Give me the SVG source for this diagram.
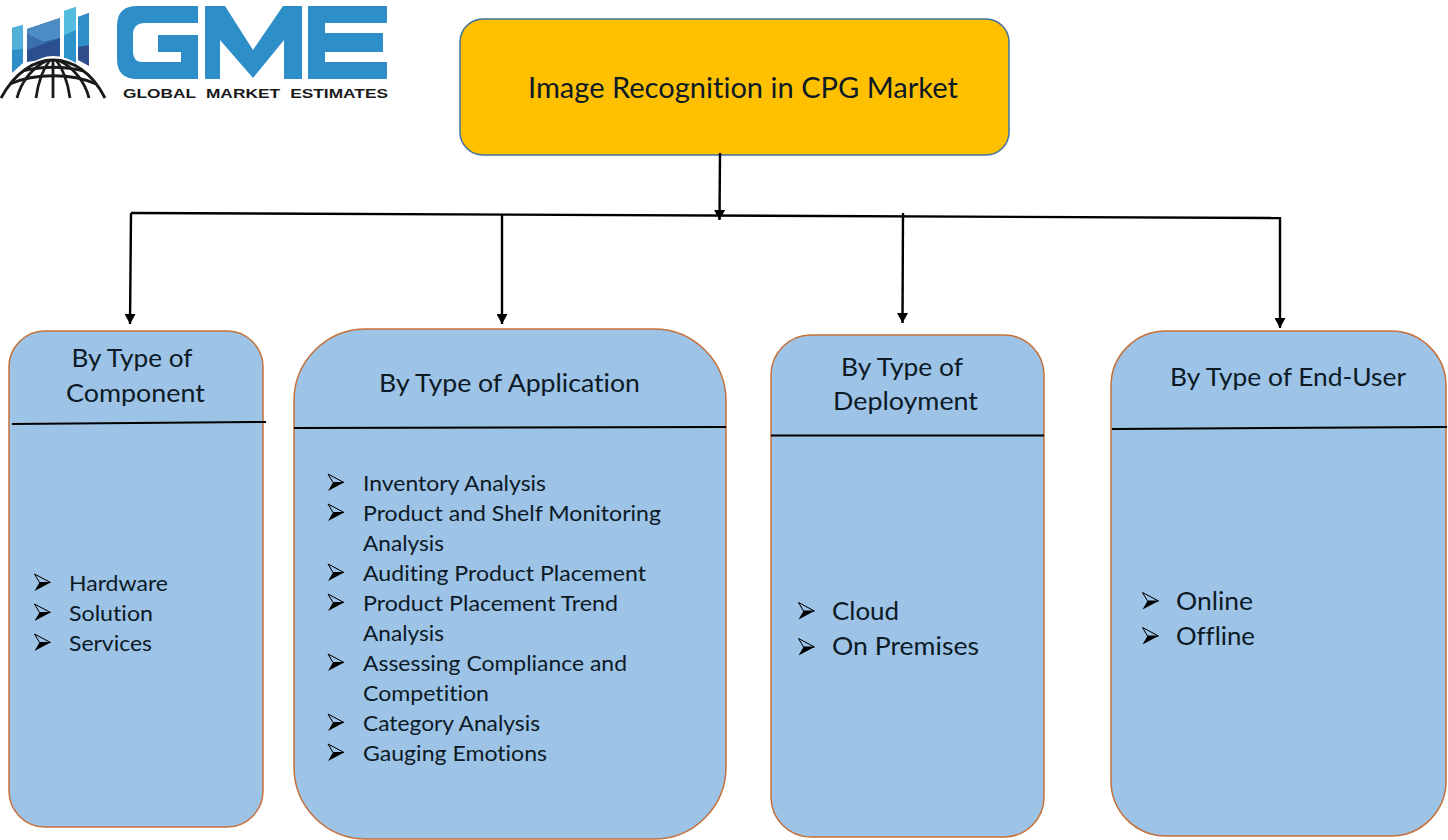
<svg xmlns="http://www.w3.org/2000/svg" xmlns:xlink="http://www.w3.org/1999/xlink" width="1448" height="840" viewBox="0 0 1448 840">
<style>
text{font-family:Lato,"Open Sans","Liberation Sans",sans-serif;fill:#0c1a26;font-variant-ligatures:none}
.box{fill:#9dc3e6;stroke:#c5703a;stroke-width:1.5}
.div{stroke:#000;stroke-width:2;fill:none}
.con{stroke:#000;stroke-width:2.4;fill:none}
.h{font-size:25px}
.i{font-size:22px}
.j{font-size:25px}
.gme{fill:#2e8ec7}
</style>
<defs>
<marker id="arr" markerUnits="userSpaceOnUse" markerWidth="11" markerHeight="11" refX="10" refY="5.500" orient="auto"><path d="M0 0L10 5.500L0 11Z" fill="#000"/></marker>
<g id="b"><path d="M0 -8.500L16 0L0 8.500L5 0Z" fill="#000"/><path d="M0 -8.500L16 0L5 0Z" fill="#9dc3e6" stroke="#000" stroke-width="1"/></g>
</defs>
<rect width="1448" height="840" fill="#fff"/>
<g id="logo">
<path d="M12 28L23 25V63L12 73Z" fill="#2e8ec7"/><path d="M12 28L23 25V49L12 50Z" fill="#4fb0da"/>
<path d="M27 29L60 18V57L27 62Z" fill="#2b4f8f"/><path d="M27 29L60 18V38L43 42L27 34Z" fill="#4b8cc4"/><path d="M27 34L43 42L60 38L43 44L27 50Z" fill="#3a70ad"/>
<path d="M64 11L76 7V63L64 58Z" fill="#2e93cb"/><path d="M64 11L76 7V30L64 35Z" fill="#56bde0"/>
<path d="M78 17L89 13V66L78 60Z" fill="#2e4f8b"/><path d="M78 17L89 13V45L78 47Z" fill="#2e8ec7"/>
<path d="M8 90C20 68 38 56 53 56C70 56 88 68 100 90L96 100H10Z" fill="#fff"/>
<g fill="none" stroke="#1a1a1a" stroke-width="2.800">
<path d="M1 98C15 72 35 60 53 60C72 60 92 72 105 98"/>
<path d="M10 84C35 73 72 73 96 84M23 71C40 66 66 66 83 71"/>
<path d="M17 98C21 82 32 68 46 61M36 98C38 84 42 70 50 60M53 60V98M70 98C68 84 64 70 56 60M89 98C85 82 74 68 60 61"/>
</g>
<path class="gme" d="M137 6H198V23H145Q133 23 133 35V52Q133 62 143 62H181V52H158V35H198V79H137Q117 79 117 59V26Q117 6 137 6Z"/>
<path class="gme" d="M205 79V6H225L253 50L283 6H302V79H284V40L253 78L220 40V79Z"/>
<path class="gme" d="M308 6H387V23H325V33H383V52H325V62H387V79H308Z"/>
<text x="123" y="98" font-size="13" font-weight="700" word-spacing="4" textLength="265" lengthAdjust="spacingAndGlyphs" style="font-family:'Liberation Sans',sans-serif;fill:#1a1a1a">GLOBAL MARKET ESTIMATES</text>
</g>
<g id="root"><rect x="460" y="19" width="549" height="136" rx="23" fill="#ffc000" stroke="#41719c" stroke-width="1.500"/>
<text x="528" y="98" font-size="28.500" textLength="430" lengthAdjust="spacingAndGlyphs">Image Recognition in CPG Market</text></g>
<g id="connectors">
<path class="con" d="M720 153L719.500 220" marker-end="url(#arr)"/>
<path class="con" d="M131 213L1281 218"/>
<path class="con" d="M131 213L130 324" marker-end="url(#arr)"/>
<path class="con" d="M502 215L502 324" marker-end="url(#arr)"/>
<path class="con" d="M903 213L902.500 323" marker-end="url(#arr)"/>
<path class="con" d="M1280 217L1280 328" marker-end="url(#arr)"/>
</g>
<g id="component"><rect class="box" x="9" y="331" width="254" height="496" rx="36"/>
<path class="div" d="M12 424L266 422"/>
<text class="h" x="71.500" y="367" textLength="121" lengthAdjust="spacingAndGlyphs">By Type of</text>
<text class="h" x="66" y="402" textLength="139" lengthAdjust="spacingAndGlyphs">Component</text>
<use xlink:href="#b" href="#b" x="34.500" y="582.500"/><use xlink:href="#b" href="#b" x="34.500" y="612.500"/><use xlink:href="#b" href="#b" x="34.500" y="642.500"/>
<text class="i" x="69" y="591" textLength="99" lengthAdjust="spacingAndGlyphs">Hardware</text>
<text class="i" x="69" y="621" textLength="84" lengthAdjust="spacingAndGlyphs">Solution</text>
<text class="i" x="69" y="651" textLength="83" lengthAdjust="spacingAndGlyphs">Services</text></g>
<g id="application"><rect class="box" x="294" y="329" width="432" height="510" rx="72"/>
<path class="div" d="M294 428L726 427"/>
<text class="h" x="379" y="392" textLength="261" lengthAdjust="spacingAndGlyphs">By Type of Application</text>
<use xlink:href="#b" href="#b" x="328" y="482.500"/><use xlink:href="#b" href="#b" x="328" y="512.500"/><use xlink:href="#b" href="#b" x="328" y="572.500"/><use xlink:href="#b" href="#b" x="328" y="602.500"/><use xlink:href="#b" href="#b" x="328" y="662.500"/><use xlink:href="#b" href="#b" x="328" y="722.500"/><use xlink:href="#b" href="#b" x="328" y="752.500"/>
<text class="i" x="363" y="491" textLength="183" lengthAdjust="spacingAndGlyphs">Inventory Analysis</text>
<text class="i" x="363" y="521" textLength="298" lengthAdjust="spacingAndGlyphs">Product and Shelf Monitoring</text>
<text class="i" x="363" y="551" textLength="81" lengthAdjust="spacingAndGlyphs">Analysis</text>
<text class="i" x="363" y="581" textLength="283" lengthAdjust="spacingAndGlyphs">Auditing Product Placement</text>
<text class="i" x="363" y="611" textLength="255" lengthAdjust="spacingAndGlyphs">Product Placement Trend</text>
<text class="i" x="363" y="641" textLength="81" lengthAdjust="spacingAndGlyphs">Analysis</text>
<text class="i" x="363" y="671" textLength="264" lengthAdjust="spacingAndGlyphs">Assessing Compliance and</text>
<text class="i" x="363" y="701" textLength="126" lengthAdjust="spacingAndGlyphs">Competition</text>
<text class="i" x="363" y="731" textLength="177" lengthAdjust="spacingAndGlyphs">Category Analysis</text>
<text class="i" x="363" y="761" textLength="184" lengthAdjust="spacingAndGlyphs">Gauging Emotions</text></g>
<g id="deployment"><rect class="box" x="771" y="335" width="273" height="502" rx="40"/>
<path class="div" d="M771 435.500H1044"/>
<text class="h" x="841" y="376" textLength="122" lengthAdjust="spacingAndGlyphs">By Type of</text>
<text class="h" x="833" y="410" textLength="145" lengthAdjust="spacingAndGlyphs">Deployment</text>
<use xlink:href="#b" href="#b" x="798.500" y="611"/><use xlink:href="#b" href="#b" x="798.500" y="647"/>
<text class="j" x="832" y="620" textLength="67" lengthAdjust="spacingAndGlyphs">Cloud</text>
<text class="j" x="832" y="655" textLength="147" lengthAdjust="spacingAndGlyphs">On Premises</text></g>
<g id="enduser"><rect class="box" x="1111" y="331" width="335" height="505" rx="55"/>
<path class="div" d="M1112 429L1447 427"/>
<text class="h" x="1170" y="386" textLength="236" lengthAdjust="spacingAndGlyphs">By Type of End-User</text>
<use xlink:href="#b" href="#b" x="1142.500" y="601"/><use xlink:href="#b" href="#b" x="1142.500" y="636"/>
<text class="j" x="1176" y="610" textLength="77" lengthAdjust="spacingAndGlyphs">Online</text>
<text class="j" x="1176" y="645" textLength="79" lengthAdjust="spacingAndGlyphs">Offline</text></g>
</svg>
